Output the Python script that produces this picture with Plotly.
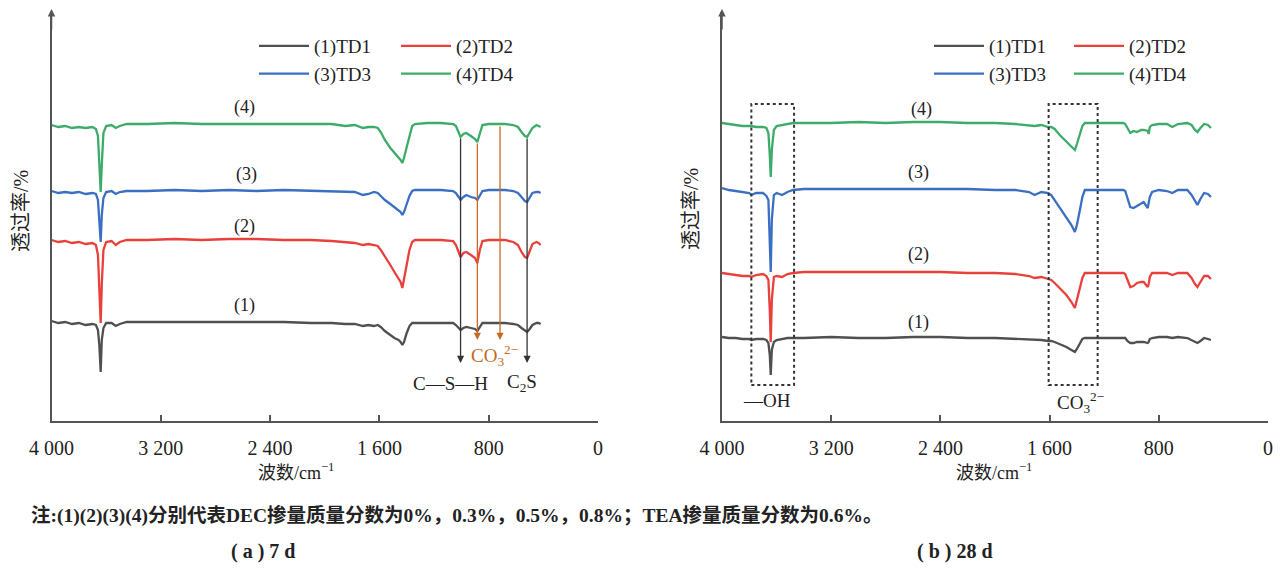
import plotly.graph_objects as go

# ---------------- data ----------------
# (a) 7 d : wavenumber (cm^-1) and relative transmittance (offset curves)
wn_7d = [4000, 3950, 3900, 3850, 3800, 3750, 3700, 3675, 3660, 3650,
         3640, 3632, 3620, 3600, 3560, 3530, 3500, 3450, 3300, 3100,
         2900, 2700, 2500, 2300, 2100, 1950, 1850, 1780, 1720, 1680,
         1640, 1612, 1590, 1560, 1520, 1490, 1460, 1445, 1432, 1420,
         1400, 1380, 1360, 1340, 1250, 1150, 1060, 1040, 1020, 1006,
         985, 964, 930, 900, 883, 865, 846, 800, 750, 717,
         680, 620, 586, 560, 535, 519, 500, 480, 450, 435, 420]
td1_7d = [100, 98, 99, 97, 98, 96, 97, 96, 91, 76,
          49, 81, 93, 98, 98, 95, 97, 99, 99, 99,
          99, 99, 99, 99, 98, 98, 97, 97, 95, 96,
          95, 96, 94, 90, 86, 83, 81, 79, 76, 79,
          88, 95, 98, 98, 98, 98, 98, 96, 93, 91,
          93, 94, 93, 92, 90, 94, 98, 98, 98, 98,
          98, 97, 96, 93, 90, 89, 92, 96, 98, 98, 97]
td2_7d = [181, 179, 180, 178, 179, 177, 178, 176, 166, 131,
          98, 136, 171, 179, 180, 176, 179, 181, 181, 182,
          181, 182, 182, 181, 181, 180, 179, 178, 176, 177,
          176, 175, 171, 165, 156, 149, 143, 139, 133, 141,
          157, 171, 179, 181, 181, 181, 180, 176, 169, 164,
          168, 169, 166, 163, 158, 171, 180, 181, 181, 181,
          181, 179, 176, 169, 164, 163, 169, 177, 179, 178, 176]
td3_7d = [230, 228, 229, 228, 229, 227, 228, 227, 221, 201,
          179, 206, 223, 229, 230, 227, 229, 230, 230, 231,
          230, 231, 230, 231, 230, 230, 229, 229, 226, 227,
          229, 228, 225, 221, 217, 214, 211, 209, 206, 209,
          217, 225, 230, 231, 231, 231, 230, 228, 224, 221,
          224, 226, 224, 223, 221, 225, 230, 231, 231, 231,
          231, 230, 228, 224, 220, 219, 223, 228, 229, 229, 228]
td4_7d = [296, 294, 295, 293, 294, 293, 294, 292, 285, 261,
          229, 256, 288, 295, 296, 293, 295, 297, 297, 298,
          297, 297, 297, 297, 297, 297, 295, 296, 293, 294,
          294, 293, 289, 281, 273, 268, 264, 261, 258, 263,
          274, 286, 295, 297, 298, 298, 297, 295, 289, 284,
          287, 288, 285, 282, 279, 287, 296, 297, 297, 297,
          297, 296, 294, 289, 285, 284, 288, 293, 296, 295, 294]

# (b) 28 d
wn_28d = [4000, 3950, 3900, 3850, 3800, 3785, 3750, 3700, 3675, 3660,
          3650, 3643, 3635, 3620, 3600, 3560, 3520, 3480, 3400, 3200,
          3000, 2800, 2600, 2400, 2200, 2000, 1850, 1750, 1710, 1660,
          1610, 1588, 1563, 1526, 1477, 1440, 1415, 1400, 1378, 1360,
          1342, 1200, 1060, 1046, 1030, 1009, 985, 960, 930, 911,
          881, 874, 866, 849, 800, 740, 701, 660, 591, 560,
          535, 517, 495, 468, 440, 418]
td1_28d = [84, 83, 83, 82, 82, 81, 82, 82, 81, 78,
           66, 46, 71, 79, 81, 82, 83, 83, 83, 84,
           83, 83, 84, 84, 83, 83, 82, 82, 81, 81,
           80, 80, 79, 77, 74, 71, 69, 72, 78, 82,
           83, 83, 83, 83, 80, 78, 78, 79, 79, 79,
           78, 79, 82, 83, 84, 84, 83, 84, 83, 81,
           79, 78, 80, 83, 82, 81]
td2_28d = [148, 147, 146, 145, 145, 144, 146, 147, 145, 141,
           111, 79, 121, 144, 145, 144, 147, 148, 149, 149,
           149, 149, 149, 149, 148, 148, 147, 145, 143, 144,
           142, 141, 138, 133, 126, 119, 113, 121, 134, 143,
           148, 148, 148, 147, 141, 134, 135, 138, 139, 139,
           134, 137, 144, 148, 148, 148, 146, 148, 148, 143,
           137, 134, 139, 145, 145, 142]
td3_28d = [233, 231, 230, 229, 228, 226, 228, 228, 225, 221,
           186, 149, 201, 226, 228, 226, 229, 231, 232, 232,
           232, 232, 232, 232, 232, 231, 231, 229, 226, 229,
           228, 226, 221, 214, 204, 196, 189, 196, 211, 224,
           231, 231, 231, 230, 223, 214, 213, 215, 217, 219,
           213, 217, 224, 229, 231, 230, 228, 231, 231, 226,
           220, 216, 222, 228, 227, 224]
td4_28d = [298, 297, 296, 295, 295, 295, 294, 294, 293, 288,
           266, 244, 271, 291, 295, 296, 297, 298, 298, 298,
           299, 298, 299, 299, 298, 298, 297, 296, 295, 296,
           294, 294, 292, 286, 279, 274, 271, 277, 288, 295,
           298, 298, 298, 297, 293, 288, 290, 289, 291, 291,
           290, 287, 294, 296, 297, 297, 294, 297, 298, 296,
           291, 289, 293, 297, 296, 293]

series_names = ["(1)TD1", "(2)TD2", "(3)TD3", "(4)TD4"]
curve_labels = ["(1)", "(2)", "(3)", "(4)"]
x_tickvals = [4000, 3200, 2400, 1600, 800, 0]
x_ticktext = ["4 000", "3 200", "2 400", "1 600", "800", "0"]
# label anchor points (wavenumber, value) for curve tags
tags_7d = [(2584, 116), (2591, 194), (2576, 246), (2591, 313)]
tags_28d = [(2557, 99), (2564, 166), (2564, 248), (2542, 311)]
# band assignments
band_7d_arrows = [(1006, 284, 58, "black"), (883, 279, 81, "orange"),
                  (717, 296, 81, "orange"), (519, 284, 58, "black")]
box_28d = [(3785, 3472), (1607, 1248)]
note = "注:(1)(2)(3)(4)分别代表DEC掺量质量分数为0%，0.3%，0.5%，0.8%；TEA掺量质量分数为0.6%。"

# ---------------- styling ----------------
W, H = 1280, 569
FONT = "Liberation Serif, Noto Sans CJK SC, serif"
colors = ["#505050", "#e8413c", "#3b6fc2", "#3dab69"]
ORANGE = "#c46a26"
AX = "#555555"


def px(x):
    return x / W


def py(y):
    return 1 - y / H


fig = go.Figure()

panels = [
    (wn_7d, [td1_7d, td2_7d, td3_7d, td4_7d], "x", "y", ["legend", "legend2"]),
    (wn_28d, [td1_28d, td2_28d, td3_28d, td4_28d], "x2", "y2", ["legend3", "legend4"]),
]
for wn, ys, xa, ya, legs in panels:
    for i, (name, vals) in enumerate(zip(series_names, ys)):
        fig.add_trace(go.Scatter(
            x=wn, y=vals, mode="lines", name=name,
            line=dict(color=colors[i], width=2.3),
            xaxis=xa, yaxis=ya, legend=legs[i % 2],
            hoverinfo="skip"))

axis_common = dict(showgrid=False, zeroline=False, showline=True,
                   linecolor=AX, linewidth=1.5, automargin=False)
xcommon = dict(range=[4000, 0], tickmode="array", tickvals=x_tickvals,
               ticktext=x_ticktext, ticks="inside", ticklen=6, tickwidth=1.5,
               tickcolor=AX, tickfont=dict(size=20, color="#222"),
               ticklabelstandoff=8, **axis_common)
ycommon = dict(range=[0, 409], showticklabels=False, ticks="", **axis_common)

leg = dict(orientation="v", xanchor="left", yanchor="top",
           bgcolor="rgba(0,0,0,0)", font=dict(size=19, color="#222", family=FONT),
           itemwidth=50, tracegroupgap=0, traceorder="normal")

fig.update_layout(
    template="none",
    width=W, height=H, autosize=False,
    margin=dict(l=0, r=0, t=0, b=0, pad=0),
    paper_bgcolor="white", plot_bgcolor="white",
    font=dict(family=FONT, size=19, color="#222"),
    xaxis=dict(domain=[px(51.5), px(598)], anchor="y", **xcommon),
    yaxis=dict(domain=[py(421), py(12)], anchor="x", **ycommon),
    xaxis2=dict(domain=[px(722), px(1268)], anchor="y2", **xcommon),
    yaxis2=dict(domain=[py(421), py(12)], anchor="x2", **ycommon),
    legend=dict(x=px(254), y=py(27), **leg),
    legend2=dict(x=px(396), y=py(27), **leg),
    legend3=dict(x=px(929), y=py(27), **leg),
    legend4=dict(x=px(1069), y=py(27), **leg),
)

C = dict(xanchor="center", yanchor="middle", showarrow=False)
ann = []
# y axis arrows
for xp in (51.5, 722):
    ann.append(dict(x=px(xp), y=py(9), xref="paper", yref="paper", ax=0, ay=22,
                    text="", showarrow=True, arrowhead=2, arrowsize=1,
                    arrowwidth=1.5, arrowcolor=AX))
# axis titles
for xc in (296, 994):
    ann.append(dict(x=px(xc), y=py(471), xref="paper", yref="paper",
                    text="波数/cm<sup>−1</sup>",
                    font=dict(size=18, color="#222"), **C))
for xc, yc in ((21, 211), (691, 209)):
    ann.append(dict(x=px(xc), y=py(yc), xref="paper", yref="paper",
                    text="透过率/%", textangle=-90,
                    font=dict(size=20, color="#222"), **C))
# curve tags
for tags, xr, yr in ((tags_7d, "x", "y"), (tags_28d, "x2", "y2")):
    for lab, (xv, yv) in zip(curve_labels, tags):
        ann.append(dict(x=xv, y=yv, xref=xr, yref=yr, text=lab,
                        font=dict(size=18, color="#222"), **C))
# band arrows (7 d)
for xv, y0, y1, c in band_7d_arrows:
    col = "#333333" if c == "black" else ORANGE
    ann.append(dict(x=xv, y=y1, ax=xv, ay=y0, xref="x", yref="y",
                    axref="x", ayref="y", text="", showarrow=True,
                    arrowhead=2, arrowsize=1.1, arrowwidth=1.3, arrowcolor=col))
ann.append(dict(x=1083, y=38, xref="x", yref="y", text="C—S—H",
                font=dict(size=19, color="#222"), **C))
ann.append(dict(x=557, y=38, xref="x", yref="y", text="C<sub>2</sub>S",
                font=dict(size=19, color="#222"), **C))
ann.append(dict(x=754, y=66, xref="x", yref="y",
                text="CO<sub>3</sub><sup>2−</sup>",
                font=dict(size=19, color=ORANGE), **C))
# 28 d labels
ann.append(dict(x=3670, y=21, xref="x2", yref="y2", text="—OH",
                font=dict(size=19, color="#222"), **C))
ann.append(dict(x=1377, y=19, xref="x2", yref="y2",
                text="CO<sub>3</sub><sup>2−</sup>",
                font=dict(size=19, color="#222"), **C))
# note and captions
ann.append(dict(x=px(29), y=py(515), xref="paper", yref="paper", xanchor="left",
                yanchor="middle", text="<b>" + note + "</b>", showarrow=False,
                font=dict(size=19.5, color="#222")))
ann.append(dict(x=px(263), y=py(551), xref="paper", yref="paper",
                text="<b>( a ) 7 d</b>", font=dict(size=20, color="#222"), **C))
ann.append(dict(x=px(955), y=py(551), xref="paper", yref="paper",
                text="<b>( b ) 28 d</b>", font=dict(size=20, color="#222"), **C))
fig.update_layout(annotations=ann)

shapes = []
for x0, x1 in box_28d:
    shapes.append(dict(type="rect", xref="x2", yref="y2", x0=x0, x1=x1,
                       y0=36, y1=317, line=dict(color="#333", width=2, dash="dot"),
                       fillcolor="rgba(0,0,0,0)"))
fig.update_layout(shapes=shapes)

fig.write_html("out.html")
